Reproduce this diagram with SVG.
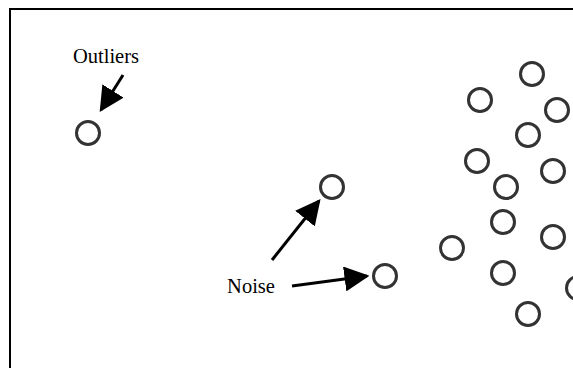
<svg xmlns="http://www.w3.org/2000/svg" width="573" height="368" viewBox="0 0 573 368">
<style>
.pt{fill:#fff;stroke:#333;stroke-width:3}
.lbl{font-family:"Liberation Serif","Times New Roman",serif;font-size:20.5px;fill:#000}
.arr{stroke:#000;stroke-width:3;fill:none;marker-end:url(#ah)}
</style>
<defs>
<marker id="ah" viewBox="0 0 10 10" markerWidth="25" markerHeight="25" markerUnits="userSpaceOnUse" refX="9" refY="5" orient="auto">
<path d="M0,0 L10,5 L0,10 z" fill="#000"/>
</marker>
</defs>
<rect x="0" y="0" width="573" height="368" fill="#fff"/>
<path d="M10,368 V9 H573" fill="none" stroke="#000" stroke-width="2"/>
<g id="label-outliers"><text class="lbl" x="106" y="63" text-anchor="middle">Outliers</text></g>
<g id="label-noise"><text class="lbl" x="251" y="293" text-anchor="middle">Noise</text></g>
<g id="outlier"><circle class="pt" cx="88" cy="133" r="11.5"/></g>
<g id="noise1"><circle class="pt" cx="332" cy="187" r="11.5"/></g>
<g id="noise2"><circle class="pt" cx="385" cy="276" r="11.5"/></g>
<g id="cluster">
<circle class="pt" cx="532" cy="74" r="11.5"/>
<circle class="pt" cx="480" cy="100" r="11.5"/>
<circle class="pt" cx="557" cy="110" r="11.5"/>
<circle class="pt" cx="528" cy="135" r="11.5"/>
<circle class="pt" cx="477" cy="161" r="11.5"/>
<circle class="pt" cx="553" cy="171" r="11.5"/>
<circle class="pt" cx="506" cy="187" r="11.5"/>
<circle class="pt" cx="503" cy="222" r="11.5"/>
<circle class="pt" cx="553" cy="237" r="11.5"/>
<circle class="pt" cx="452" cy="248" r="11.5"/>
<circle class="pt" cx="503" cy="273" r="11.5"/>
<circle class="pt" cx="578" cy="288" r="11.5"/>
<circle class="pt" cx="528" cy="314" r="11.5"/>
</g>
<g id="connectors">
<path class="arr" d="M123,75 L101,110"/>
<path class="arr" d="M272,260 L319,201"/>
<path class="arr" d="M292,286 L367,276"/>
</g>
</svg>
